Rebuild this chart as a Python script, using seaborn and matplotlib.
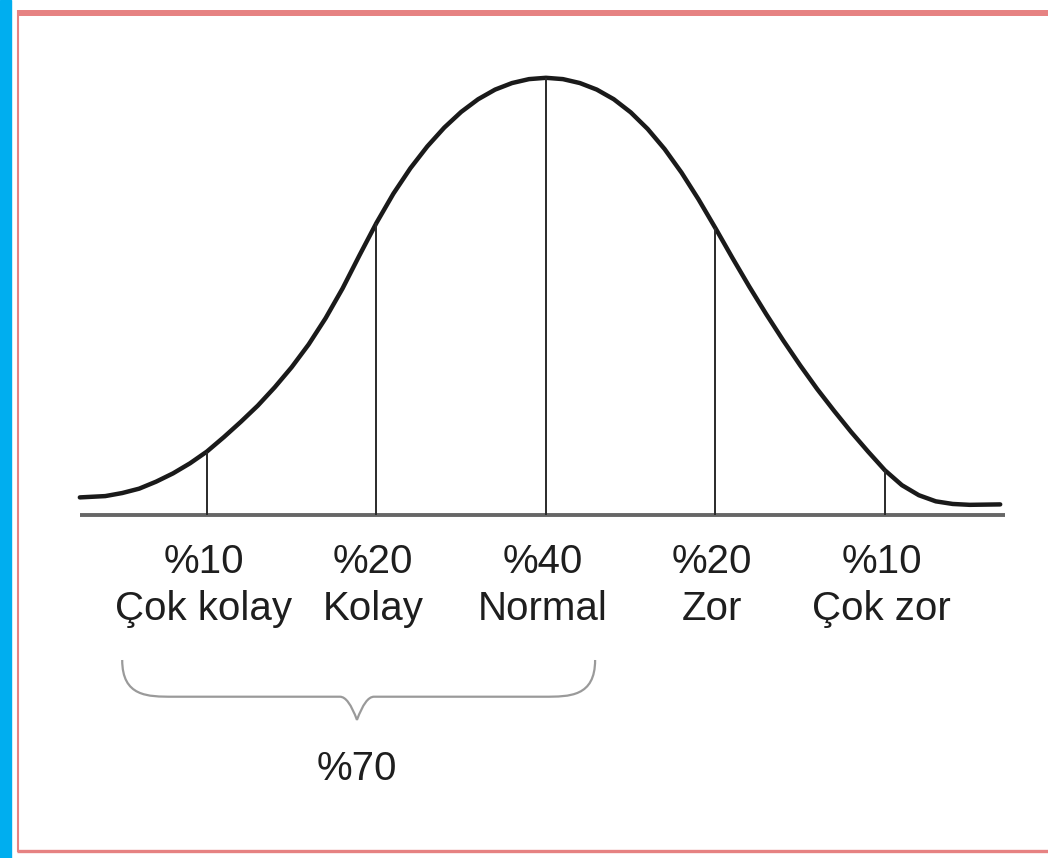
import numpy as np
import pandas as pd
import matplotlib.pyplot as plt
from matplotlib.patches import Rectangle, PathPatch
from matplotlib.path import Path
from matplotlib.lines import Line2D
import seaborn as sns

# bell curve (x in "sd" units, height relative to the peak)
curve_x = [-2.75, -2.6, -2.5, -2.4, -2.3, -2.2, -2.1, -2.0, -1.9, -1.8,
           -1.7, -1.6, -1.5, -1.4, -1.3, -1.2, -1.1, -1.0, -0.9, -0.8,
           -0.7, -0.6, -0.5, -0.4, -0.3, -0.2, -0.1, 0.0, 0.1, 0.2,
           0.3, 0.4, 0.5, 0.6, 0.7, 0.8, 0.9, 1.0, 1.1, 1.2,
           1.3, 1.4, 1.5, 1.6, 1.7, 1.8, 1.9, 2.0, 2.1, 2.2,
           2.3, 2.4, 2.5, 2.68]
curve_y = [0.040, 0.043, 0.050, 0.060, 0.076, 0.095, 0.118, 0.145, 0.178, 0.213,
           0.250, 0.292, 0.338, 0.390, 0.450, 0.518, 0.594, 0.668, 0.735, 0.793,
           0.843, 0.886, 0.922, 0.951, 0.973, 0.988, 0.997, 1.0, 0.997, 0.988,
           0.973, 0.951, 0.921, 0.883, 0.837, 0.783, 0.722, 0.656, 0.588, 0.522,
           0.459, 0.399, 0.342, 0.288, 0.238, 0.190, 0.145, 0.102, 0.068, 0.045,
           0.031, 0.025, 0.023, 0.024]

# category dividers and labels
cut_x = [-2, -1, 0, 1, 2]
cut_top = [0.145, 0.668, 1.0, 0.656, 0.102]
shares = ["%10", "%20", "%40", "%20", "%10"]
names = ["Çok kolay", "Kolay", "Normal", "Zor", "Çok zor"]
group_label = "%70"

sns.set_style("white")
plt.rcParams['font.family'] = ['Liberation Sans', 'DejaVu Sans']

fig = plt.figure(figsize=(10.48, 8.58), dpi=100)
ax = fig.add_axes([0, 0, 1, 1])
ax.set_xlim(-3.221, 2.962)
ax.set_ylim(-0.785, 1.178)
ax.axis('off')

df = pd.DataFrame({'x': curve_x, 'y': curve_y})
sns.lineplot(data=df, x='x', y='y', ax=ax, color='#1a1a1a', lw=3.2,
             solid_capstyle='round', solid_joinstyle='round')

# base line and dividers
ax.plot([-2.75, 2.71], [0, 0], color='#666666', lw=2.8, solid_capstyle='butt')
ax.vlines(cut_x, 0, cut_top, color='#2a2a2a', lw=1.4)

txt = '#1e1e1e'
fs = 29
for x, s, n in zip(cut_x, shares, names):
    ax.text(x - 0.02, -0.133, s, ha='center', va='baseline', fontsize=fs, color=txt)
    ax.text(x - 0.02, -0.240, n, ha='center', va='baseline', fontsize=fs, color=txt)

# brace under the first three groups
bl, br, bm = -2.50, 0.29, -1.115
yt, yh, yp = -0.332, -0.416, -0.469
verts = [(bl, yt), (bl, yh), (bl + 0.15, yh), (bl + 0.3, yh),
         (bm - 0.1, yh), (bm - 0.05, yh), (bm, yp),
         (bm + 0.05, yh), (bm + 0.1, yh), (br - 0.3, yh),
         (br - 0.15, yh), (br, yh), (br, yt)]
codes = [Path.MOVETO, Path.CURVE4, Path.CURVE4, Path.CURVE4,
         Path.LINETO, Path.CURVE3, Path.CURVE3,
         Path.CURVE3, Path.CURVE3, Path.LINETO,
         Path.CURVE4, Path.CURVE4, Path.CURVE4]
ax.add_patch(PathPatch(Path(verts, codes), fill=False, edgecolor='#9a9a9a', lw=1.6))
ax.text(bm, -0.606, group_label, ha='center', va='baseline', fontsize=fs, color=txt)

# frame decoration
W, H = 1048, 858
fig.patches.append(Rectangle((0, 0), 11 / W, 1, transform=fig.transFigure,
                             color='#00aeef', zorder=5))
pink = '#e68282'
fig.lines.append(Line2D([17 / W, 1], [(H - 12.5) / H] * 2, transform=fig.transFigure,
                        color=pink, lw=4.3, solid_capstyle='butt'))
fig.lines.append(Line2D([17 / W, 1], [7 / H] * 2, transform=fig.transFigure,
                        color=pink, lw=2.4, solid_capstyle='butt'))
fig.lines.append(Line2D([18 / W] * 2, [6 / H, (H - 10) / H], transform=fig.transFigure,
                        color=pink, lw=1.5, solid_capstyle='butt'))

fig.savefig('out.png', dpi=100)
